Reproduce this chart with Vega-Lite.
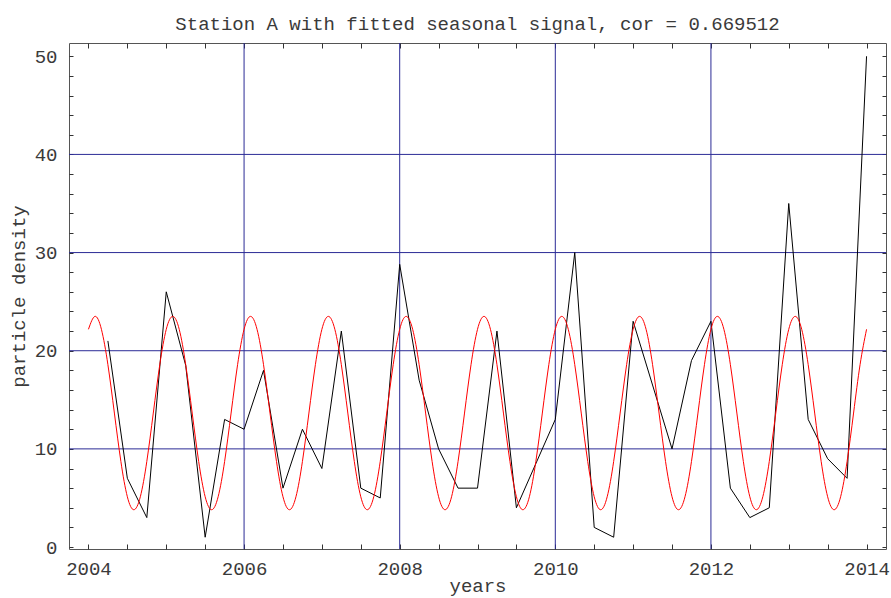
{
  "$schema": "https://vega.github.io/schema/vega-lite/v6.json",
  "width": 817,
  "height": 506,
  "autosize": {"type": "none"},
  "padding": {"left": 69, "top": 43, "right": 5, "bottom": 49},
  "background": "white",
  "title": {
    "text": "Station A with fitted seasonal signal, cor = 0.669512",
    "font": "Liberation Mono",
    "fontSize": 19,
    "fontWeight": "normal",
    "color": "#3a3a3a",
    "anchor": "middle",
    "frame": "group",
    "baseline": "alphabetic",
    "offset": 16,
    "dy": 22
  },
  "config": {
    "view": {"stroke": "#555555", "strokeWidth": 1},
    "axis": {
      "domain": false,
      "grid": false,
      "tickColor": "#333333",
      "tickWidth": 1,
      "labelFont": "Liberation Mono",
      "labelFontSize": 19,
      "labelColor": "#3a3a3a",
      "titleFont": "Liberation Mono",
      "titleFontSize": 19,
      "titleFontWeight": "normal",
      "titleColor": "#3a3a3a"
    }
  },
  "datasets": {
    "gridx": [{"g": 2006}, {"g": 2008}, {"g": 2010}, {"g": 2012}],
    "gridy": [{"g": 10}, {"g": 20}, {"g": 30}, {"g": 40}],
    "obs": [
      {"t": 2004.25, "v": 21}, {"t": 2004.5, "v": 7}, {"t": 2004.75, "v": 3},
      {"t": 2005.0, "v": 26}, {"t": 2005.25, "v": 18.5}, {"t": 2005.5, "v": 1},
      {"t": 2005.75, "v": 13}, {"t": 2006.0, "v": 12}, {"t": 2006.25, "v": 18},
      {"t": 2006.5, "v": 6}, {"t": 2006.75, "v": 12}, {"t": 2007.0, "v": 8},
      {"t": 2007.25, "v": 22}, {"t": 2007.5, "v": 6}, {"t": 2007.75, "v": 5},
      {"t": 2008.0, "v": 28.8}, {"t": 2008.25, "v": 17}, {"t": 2008.5, "v": 10},
      {"t": 2008.75, "v": 6}, {"t": 2009.0, "v": 6}, {"t": 2009.25, "v": 22},
      {"t": 2009.5, "v": 4}, {"t": 2010.0, "v": 13}, {"t": 2010.25, "v": 30},
      {"t": 2010.5, "v": 2}, {"t": 2010.75, "v": 1}, {"t": 2011.0, "v": 23},
      {"t": 2011.5, "v": 10}, {"t": 2011.75, "v": 19}, {"t": 2012.0, "v": 23},
      {"t": 2012.25, "v": 6}, {"t": 2012.5, "v": 3}, {"t": 2012.75, "v": 4},
      {"t": 2013.0, "v": 35}, {"t": 2013.25, "v": 13}, {"t": 2013.5, "v": 9},
      {"t": 2013.75, "v": 7}, {"t": 2014.0, "v": 50}
    ],
    "fit": [
      {"t": 2004.0, "v": 22.18}, {"t": 2004.0833, "v": 23.5}, {"t": 2004.1667, "v": 22.18}, {"t": 2004.25, "v": 18.58}, {"t": 2004.3333, "v": 13.65}, {"t": 2004.4167, "v": 8.72}, {"t": 2004.5, "v": 5.12}, {"t": 2004.5833, "v": 3.8}, {"t": 2004.6667, "v": 5.12}, {"t": 2004.75, "v": 8.72}, {"t": 2004.8333, "v": 13.65}, {"t": 2004.9167, "v": 18.58},
      {"t": 2005.0, "v": 22.18}, {"t": 2005.0833, "v": 23.5}, {"t": 2005.1667, "v": 22.18}, {"t": 2005.25, "v": 18.58}, {"t": 2005.3333, "v": 13.65}, {"t": 2005.4167, "v": 8.72}, {"t": 2005.5, "v": 5.12}, {"t": 2005.5833, "v": 3.8}, {"t": 2005.6667, "v": 5.12}, {"t": 2005.75, "v": 8.72}, {"t": 2005.8333, "v": 13.65}, {"t": 2005.9167, "v": 18.58},
      {"t": 2006.0, "v": 22.18}, {"t": 2006.0833, "v": 23.5}, {"t": 2006.1667, "v": 22.18}, {"t": 2006.25, "v": 18.58}, {"t": 2006.3333, "v": 13.65}, {"t": 2006.4167, "v": 8.72}, {"t": 2006.5, "v": 5.12}, {"t": 2006.5833, "v": 3.8}, {"t": 2006.6667, "v": 5.12}, {"t": 2006.75, "v": 8.72}, {"t": 2006.8333, "v": 13.65}, {"t": 2006.9167, "v": 18.58},
      {"t": 2007.0, "v": 22.18}, {"t": 2007.0833, "v": 23.5}, {"t": 2007.1667, "v": 22.18}, {"t": 2007.25, "v": 18.58}, {"t": 2007.3333, "v": 13.65}, {"t": 2007.4167, "v": 8.72}, {"t": 2007.5, "v": 5.12}, {"t": 2007.5833, "v": 3.8}, {"t": 2007.6667, "v": 5.12}, {"t": 2007.75, "v": 8.72}, {"t": 2007.8333, "v": 13.65}, {"t": 2007.9167, "v": 18.58},
      {"t": 2008.0, "v": 22.18}, {"t": 2008.0833, "v": 23.5}, {"t": 2008.1667, "v": 22.18}, {"t": 2008.25, "v": 18.58}, {"t": 2008.3333, "v": 13.65}, {"t": 2008.4167, "v": 8.72}, {"t": 2008.5, "v": 5.12}, {"t": 2008.5833, "v": 3.8}, {"t": 2008.6667, "v": 5.12}, {"t": 2008.75, "v": 8.72}, {"t": 2008.8333, "v": 13.65}, {"t": 2008.9167, "v": 18.58},
      {"t": 2009.0, "v": 22.18}, {"t": 2009.0833, "v": 23.5}, {"t": 2009.1667, "v": 22.18}, {"t": 2009.25, "v": 18.58}, {"t": 2009.3333, "v": 13.65}, {"t": 2009.4167, "v": 8.72}, {"t": 2009.5, "v": 5.12}, {"t": 2009.5833, "v": 3.8}, {"t": 2009.6667, "v": 5.12}, {"t": 2009.75, "v": 8.72}, {"t": 2009.8333, "v": 13.65}, {"t": 2009.9167, "v": 18.58},
      {"t": 2010.0, "v": 22.18}, {"t": 2010.0833, "v": 23.5}, {"t": 2010.1667, "v": 22.18}, {"t": 2010.25, "v": 18.58}, {"t": 2010.3333, "v": 13.65}, {"t": 2010.4167, "v": 8.72}, {"t": 2010.5, "v": 5.12}, {"t": 2010.5833, "v": 3.8}, {"t": 2010.6667, "v": 5.12}, {"t": 2010.75, "v": 8.72}, {"t": 2010.8333, "v": 13.65}, {"t": 2010.9167, "v": 18.58},
      {"t": 2011.0, "v": 22.18}, {"t": 2011.0833, "v": 23.5}, {"t": 2011.1667, "v": 22.18}, {"t": 2011.25, "v": 18.58}, {"t": 2011.3333, "v": 13.65}, {"t": 2011.4167, "v": 8.72}, {"t": 2011.5, "v": 5.12}, {"t": 2011.5833, "v": 3.8}, {"t": 2011.6667, "v": 5.12}, {"t": 2011.75, "v": 8.72}, {"t": 2011.8333, "v": 13.65}, {"t": 2011.9167, "v": 18.58},
      {"t": 2012.0, "v": 22.18}, {"t": 2012.0833, "v": 23.5}, {"t": 2012.1667, "v": 22.18}, {"t": 2012.25, "v": 18.58}, {"t": 2012.3333, "v": 13.65}, {"t": 2012.4167, "v": 8.72}, {"t": 2012.5, "v": 5.12}, {"t": 2012.5833, "v": 3.8}, {"t": 2012.6667, "v": 5.12}, {"t": 2012.75, "v": 8.72}, {"t": 2012.8333, "v": 13.65}, {"t": 2012.9167, "v": 18.58},
      {"t": 2013.0, "v": 22.18}, {"t": 2013.0833, "v": 23.5}, {"t": 2013.1667, "v": 22.18}, {"t": 2013.25, "v": 18.58}, {"t": 2013.3333, "v": 13.65}, {"t": 2013.4167, "v": 8.72}, {"t": 2013.5, "v": 5.12}, {"t": 2013.5833, "v": 3.8}, {"t": 2013.6667, "v": 5.12}, {"t": 2013.75, "v": 8.72}, {"t": 2013.8333, "v": 13.65}, {"t": 2013.9167, "v": 18.58},
      {"t": 2014.0, "v": 22.18}
    ]
  },
  "layer": [
    {
      "data": {"name": "gridx"},
      "mark": {"type": "rule", "color": "#2b2b96", "strokeWidth": 1},
      "encoding": {
        "x": {"field": "g", "type": "quantitative", "scale": {"domain": [2003.75, 2014.25], "nice": false, "zero": false}, "axis": null}
      }
    },
    {
      "data": {"name": "gridy"},
      "mark": {"type": "rule", "color": "#2b2b96", "strokeWidth": 1},
      "encoding": {
        "y": {"field": "g", "type": "quantitative", "scale": {"domain": [-0.2, 51.35], "nice": false, "zero": false}, "axis": null}
      }
    },
    {
      "data": {"name": "obs"},
      "mark": {"type": "line", "color": "#000000", "strokeWidth": 1},
      "encoding": {
        "x": {
          "field": "t", "type": "quantitative",
          "scale": {"domain": [2003.75, 2014.25], "nice": false, "zero": false},
          "axis": {
            "orient": "bottom",
            "values": [2004, 2004.5, 2005, 2005.5, 2006, 2006.5, 2007, 2007.5, 2008, 2008.5, 2009, 2009.5, 2010, 2010.5, 2011, 2011.5, 2012, 2012.5, 2013, 2013.5, 2014],
            "labelExpr": "datum.value % 2 === 0 ? format(datum.value, 'd') : ''",
            "tickSize": -5,
            "labelBaseline": "alphabetic",
            "labelPadding": 30,
            "labelFlush": false,
            "labelOverlap": false,
            "title": "years",
            "titleBaseline": "alphabetic",
            "titleY": 42
          }
        },
        "y": {
          "field": "v", "type": "quantitative",
          "scale": {"domain": [-0.2, 51.35], "nice": false, "zero": false},
          "axis": {
            "orient": "left",
            "values": [0, 2, 4, 6, 8, 10, 12, 14, 16, 18, 20, 22, 24, 26, 28, 30, 32, 34, 36, 38, 40, 42, 44, 46, 48, 50],
            "labelExpr": "datum.value % 10 === 0 ? format(datum.value, 'd') : ''",
            "tickSize": -4,
            "labelPadding": 16,
            "labelFlush": false,
            "labelOverlap": false,
            "title": "particle density",
            "titleBaseline": "alphabetic",
            "titleX": -45
          }
        }
      }
    },
    {
      "data": {"name": "fit"},
      "mark": {"type": "line", "color": "#ff0000", "strokeWidth": 1, "interpolate": "natural"},
      "encoding": {
        "x": {
          "field": "t", "type": "quantitative",
          "scale": {"domain": [2003.75, 2014.25], "nice": false, "zero": false},
          "axis": {
            "orient": "top",
            "values": [2004, 2004.5, 2005, 2005.5, 2006, 2006.5, 2007, 2007.5, 2008, 2008.5, 2009, 2009.5, 2010, 2010.5, 2011, 2011.5, 2012, 2012.5, 2013, 2013.5, 2014],
            "labels": false,
            "tickSize": -5,
            "title": null
          }
        },
        "y": {
          "field": "v", "type": "quantitative",
          "scale": {"domain": [-0.2, 51.35], "nice": false, "zero": false},
          "axis": {
            "orient": "right",
            "values": [0, 2, 4, 6, 8, 10, 12, 14, 16, 18, 20, 22, 24, 26, 28, 30, 32, 34, 36, 38, 40, 42, 44, 46, 48, 50],
            "labels": false,
            "tickSize": -4,
            "title": null
          }
        }
      }
    }
  ],
  "resolve": {"axis": {"x": "independent", "y": "independent"}}
}
